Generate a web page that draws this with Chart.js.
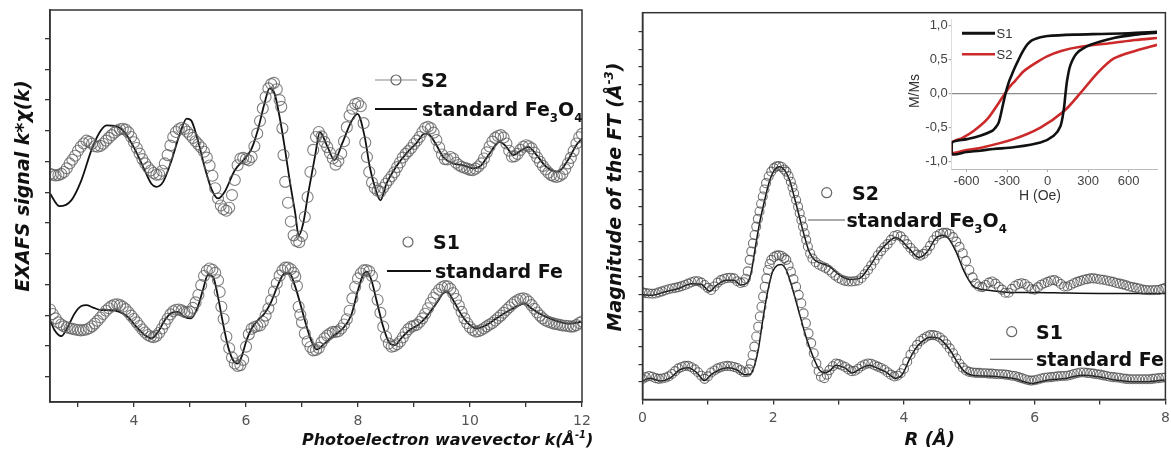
<!DOCTYPE html>
<html><head><meta charset="utf-8">
<script src="https://cdn.jsdelivr.net/npm/chart.js@4.4.1/dist/chart.umd.min.js"></script>
<style>
html,body{margin:0;padding:0;background:#fff;}
#wrap{position:relative;width:1171px;height:452px;overflow:hidden;background:#fff;}
canvas{position:absolute;}
</style></head><body>
<div id="wrap">
<canvas id="cL" width="600" height="452" style="left:0;top:0;width:600px;height:452px"></canvas>
<canvas id="cR" width="571" height="452" style="left:600px;top:0;width:571px;height:452px"></canvas>
<canvas id="cI" width="276" height="195" style="left:890px;top:14px;width:276px;height:195px"></canvas>
</div>
<script>
// ---------- LEFT PANEL: EXAFS k*chi(k) (arbitrary offset units) ----------
const K_S2 = [2.50,2.55,2.60,2.65,2.70,2.75,2.80,2.85,2.90,2.95,3.00,3.05,3.10,3.15,3.20,3.25,3.30,3.35,3.40,3.45,3.50,3.55,3.60,3.65,3.70,3.75,3.80,3.85,3.90,3.95,4.00,4.05,4.10,4.15,4.20,4.25,4.30,4.35,4.40,4.45,4.50,4.55,4.60,4.65,4.70,4.75,4.80,4.85,4.90,4.95,5.00,5.05,5.10,5.15,5.20,5.25,5.30,5.35,5.40,5.45,5.50,5.55,5.60,5.65,5.70,5.75,5.80,5.85,5.90,5.95,6.00,6.05,6.10,6.15,6.20,6.25,6.30,6.35,6.40,6.45,6.50,6.55,6.60,6.63,6.65,6.67,6.70,6.75,6.80,6.85,6.90,6.95,7.00,7.05,7.10,7.15,7.20,7.25,7.30,7.35,7.40,7.45,7.50,7.55,7.60,7.65,7.70,7.75,7.80,7.85,7.90,7.95,8.00,8.05,8.10,8.13,8.16,8.20,8.25,8.30,8.35,8.40,8.45,8.50,8.55,8.60,8.65,8.70,8.75,8.80,8.85,8.90,8.95,9.00,9.05,9.10,9.15,9.20,9.25,9.30,9.35,9.40,9.45,9.50,9.55,9.60,9.65,9.70,9.75,9.80,9.85,9.90,9.95,10.00,10.05,10.10,10.15,10.20,10.25,10.30,10.35,10.40,10.45,10.50,10.55,10.60,10.65,10.70,10.75,10.80,10.85,10.90,10.95,11.00,11.05,11.10,11.15,11.20,11.25,11.30,11.35,11.40,11.45,11.50,11.55,11.60,11.65,11.70,11.75,11.80,11.85,11.90,11.95,12.00];
const CHI_S2 = [6.60,6.57,6.55,6.56,6.60,6.66,6.78,6.94,7.06,7.19,7.35,7.48,7.59,7.68,7.64,7.58,7.50,7.48,7.51,7.58,7.68,7.77,7.86,7.94,8.01,8.05,8.07,8.04,7.95,7.80,7.63,7.44,7.26,7.08,6.94,6.81,6.71,6.63,6.57,6.58,6.70,6.94,7.21,7.52,7.80,7.96,8.05,8.10,8.06,7.97,7.87,7.77,7.66,7.56,7.46,7.32,7.13,6.87,6.54,6.13,5.80,5.57,5.45,5.40,5.50,5.91,6.40,6.88,7.10,7.12,7.08,7.04,7.15,7.50,7.91,8.32,8.73,9.10,9.38,9.52,9.56,9.35,9.00,8.78,8.08,7.21,6.34,5.66,5.05,4.60,4.42,4.38,4.58,5.20,5.85,6.66,7.38,7.80,7.96,7.82,7.64,7.47,7.28,7.10,6.90,7.02,7.26,7.66,8.12,8.50,8.72,8.87,8.90,8.80,8.25,7.62,7.15,6.66,6.32,6.14,6.05,6.02,6.15,6.28,6.40,6.52,6.65,6.82,6.97,7.13,7.25,7.34,7.44,7.57,7.68,7.80,7.96,8.09,8.13,8.08,7.94,7.70,7.46,7.23,7.08,7.07,7.15,7.10,6.96,6.89,6.83,6.80,6.77,6.73,6.72,6.77,6.84,6.94,7.10,7.30,7.49,7.65,7.77,7.83,7.86,7.78,7.59,7.35,7.16,7.17,7.25,7.38,7.48,7.53,7.50,7.43,7.29,7.13,6.99,6.86,6.74,6.64,6.56,6.52,6.50,6.53,6.60,6.76,6.94,7.12,7.34,7.59,7.79,7.90];
const K_FE3O4 = [2.50,2.67,2.88,3.06,3.24,3.39,3.51,3.66,3.83,4.01,4.19,4.31,4.40,4.52,4.67,4.82,4.94,5.02,5.14,5.26,5.38,5.50,5.62,5.80,5.98,6.10,6.21,6.33,6.42,6.51,6.60,6.69,6.78,6.88,6.94,7.02,7.11,7.23,7.32,7.45,7.58,7.72,7.88,7.99,8.12,8.21,8.30,8.40,8.51,8.68,8.86,9.04,9.19,9.28,9.40,9.52,9.70,9.88,10.05,10.17,10.35,10.53,10.65,10.77,10.92,11.04,11.19,11.36,11.57,11.75,11.90,12.00];
const CHI_FE3O4 = [5.96,5.55,5.74,6.39,7.37,7.96,8.18,8.16,7.96,7.42,6.72,6.28,6.18,6.34,7.04,7.91,8.40,8.34,7.69,6.83,6.12,5.80,6.02,6.72,7.10,7.42,8.02,8.89,9.38,9.21,8.45,7.48,6.39,5.31,4.60,4.98,5.96,7.15,7.96,7.50,7.05,7.60,8.30,8.55,7.80,6.83,6.18,5.74,6.29,6.83,7.26,7.59,7.91,7.86,7.54,7.15,6.94,6.88,6.78,6.83,7.26,7.64,7.48,7.21,7.37,7.48,7.21,6.83,6.67,7.05,7.54,7.75];
const K_S1 = [2.50,2.55,2.60,2.65,2.70,2.75,2.80,2.85,2.90,2.95,3.00,3.05,3.10,3.15,3.20,3.25,3.30,3.35,3.40,3.45,3.50,3.55,3.60,3.65,3.70,3.75,3.80,3.85,3.90,3.95,4.00,4.05,4.10,4.15,4.20,4.25,4.30,4.35,4.40,4.45,4.50,4.55,4.60,4.65,4.70,4.75,4.80,4.85,4.90,4.95,5.00,5.05,5.10,5.15,5.20,5.25,5.30,5.35,5.40,5.45,5.50,5.53,5.56,5.60,5.65,5.70,5.75,5.80,5.85,5.90,5.95,6.00,6.05,6.10,6.15,6.20,6.25,6.30,6.35,6.40,6.45,6.50,6.55,6.60,6.65,6.70,6.75,6.80,6.85,6.88,6.91,6.94,6.97,7.00,7.05,7.10,7.15,7.20,7.25,7.30,7.35,7.40,7.45,7.50,7.55,7.60,7.65,7.70,7.75,7.80,7.85,7.90,7.95,8.00,8.05,8.10,8.15,8.20,8.25,8.30,8.35,8.40,8.45,8.50,8.55,8.60,8.65,8.70,8.75,8.80,8.85,8.90,8.95,9.00,9.05,9.10,9.15,9.20,9.25,9.30,9.35,9.40,9.45,9.50,9.55,9.60,9.65,9.70,9.75,9.80,9.85,9.90,9.95,10.00,10.05,10.10,10.15,10.20,10.25,10.30,10.35,10.40,10.45,10.50,10.55,10.60,10.65,10.70,10.75,10.80,10.85,10.90,10.95,11.00,11.05,11.10,11.15,11.20,11.25,11.30,11.35,11.40,11.45,11.50,11.55,11.60,11.65,11.70,11.75,11.80,11.85,11.90,11.95,12.00];
const CHI_S1 = [2.19,2.04,1.90,1.77,1.70,1.64,1.61,1.58,1.56,1.54,1.52,1.51,1.52,1.54,1.58,1.64,1.73,1.82,1.93,2.04,2.15,2.23,2.30,2.35,2.36,2.33,2.28,2.20,2.10,1.99,1.88,1.77,1.65,1.54,1.44,1.36,1.31,1.29,1.33,1.43,1.57,1.73,1.89,2.03,2.13,2.18,2.19,2.16,2.11,2.10,2.12,2.24,2.42,2.66,2.98,3.28,3.45,3.52,3.48,3.38,3.14,2.76,2.28,1.88,1.30,0.93,0.63,0.43,0.35,0.38,0.55,0.98,1.38,1.56,1.62,1.65,1.67,1.79,1.99,2.22,2.49,2.77,3.04,3.29,3.46,3.55,3.55,3.50,3.38,3.25,2.95,2.28,2.02,1.77,1.41,1.15,0.97,0.86,0.87,0.94,1.12,1.25,1.34,1.41,1.46,1.46,1.48,1.57,1.70,1.87,2.15,2.55,2.93,3.20,3.36,3.46,3.47,3.43,3.28,2.95,2.50,2.08,1.63,1.30,1.08,0.98,1.00,1.06,1.15,1.28,1.43,1.55,1.63,1.66,1.69,1.78,1.90,2.05,2.23,2.41,2.57,2.71,2.83,2.91,2.95,2.94,2.86,2.72,2.53,2.32,2.11,1.90,1.74,1.61,1.52,1.47,1.48,1.52,1.58,1.64,1.70,1.75,1.83,1.91,1.99,2.08,2.17,2.26,2.35,2.43,2.49,2.54,2.55,2.52,2.44,2.33,2.21,2.09,1.99,1.90,1.83,1.79,1.76,1.73,1.71,1.69,1.67,1.66,1.65,1.63,1.64,1.68,1.75,1.80];
const K_FE = [2.49,2.58,2.70,2.82,2.94,3.06,3.15,3.27,3.42,3.60,3.74,3.89,4.04,4.19,4.31,4.43,4.55,4.67,4.79,4.90,5.02,5.14,5.23,5.32,5.41,5.50,5.59,5.68,5.77,5.85,5.92,6.01,6.10,6.21,6.33,6.45,6.57,6.69,6.78,6.87,6.96,7.05,7.14,7.26,7.40,7.58,7.73,7.88,8.00,8.09,8.16,8.24,8.33,8.45,8.57,8.66,8.77,8.92,9.07,9.22,9.40,9.52,9.59,9.70,9.85,10.00,10.11,10.29,10.47,10.65,10.83,10.98,11.10,11.24,11.42,11.60,11.78,11.99];
const CHI_FE = [1.90,1.52,1.32,1.63,2.06,2.30,2.33,2.25,2.17,2.17,2.11,1.95,1.63,1.36,1.25,1.46,1.84,2.08,2.11,1.95,1.90,2.28,2.82,3.31,3.25,2.60,1.73,0.98,0.54,0.43,0.65,1.19,1.57,1.84,2.06,2.44,2.98,3.36,3.36,2.98,2.44,1.84,1.30,0.89,1.08,1.36,1.57,2.01,2.82,3.31,3.42,3.14,2.49,1.63,1.08,1.03,1.25,1.52,1.68,1.95,2.39,2.71,2.77,2.49,2.01,1.68,1.57,1.68,1.90,2.11,2.28,2.39,2.22,2.06,1.90,1.79,1.73,1.79];
const K_TICKS = [3,4,5,6,7,8,9,10,11,12];
const K_LABELS = [4,6,8,10,12];
const CHI_TICKS = [0,1,2,3,4,5,6,7,8,9,10,11];

// ---------- RIGHT PANEL: |FT| vs R ----------
const R_S2 = [0.00,0.05,0.10,0.15,0.20,0.25,0.30,0.35,0.40,0.45,0.50,0.55,0.60,0.65,0.70,0.75,0.80,0.85,0.90,0.95,1.00,1.05,1.10,1.15,1.20,1.25,1.30,1.35,1.40,1.45,1.50,1.55,1.58,1.61,1.64,1.665,1.69,1.715,1.74,1.765,1.79,1.815,1.84,1.865,1.89,1.93,1.97,2.01,2.05,2.09,2.13,2.17,2.20,2.235,2.27,2.295,2.32,2.35,2.38,2.405,2.43,2.455,2.48,2.505,2.53,2.565,2.60,2.65,2.70,2.75,2.80,2.85,2.90,2.95,3.00,3.05,3.10,3.15,3.20,3.25,3.30,3.35,3.40,3.45,3.50,3.55,3.60,3.65,3.70,3.75,3.80,3.85,3.90,3.95,4.00,4.05,4.10,4.15,4.20,4.25,4.30,4.35,4.40,4.45,4.50,4.55,4.60,4.65,4.70,4.75,4.80,4.85,4.90,4.95,5.00,5.05,5.10,5.15,5.20,5.25,5.30,5.35,5.40,5.45,5.50,5.55,5.60,5.65,5.70,5.75,5.80,5.85,5.90,5.95,6.00,6.05,6.10,6.15,6.20,6.25,6.30,6.35,6.40,6.45,6.50,6.55,6.60,6.65,6.70,6.75,6.80,6.85,6.90,6.95,7.00,7.05,7.10,7.15,7.20,7.25,7.30,7.35,7.40,7.45,7.50,7.55,7.60,7.65,7.70,7.75,7.80,7.85,7.90,7.95,8.00];
const FT_S2 = [2.55,2.53,2.52,2.51,2.52,2.55,2.58,2.61,2.64,2.66,2.68,2.70,2.73,2.76,2.80,2.84,2.87,2.87,2.83,2.76,2.68,2.62,2.72,2.83,2.90,2.94,2.96,2.97,2.95,2.87,2.82,2.84,2.94,3.15,3.48,3.72,3.95,4.19,4.43,4.65,4.86,5.08,5.29,5.49,5.67,5.86,6.00,6.10,6.15,6.16,6.13,6.06,6.00,5.87,5.71,5.55,5.38,5.19,5.00,4.81,4.62,4.43,4.24,4.05,3.86,3.66,3.52,3.41,3.34,3.29,3.25,3.19,3.11,3.03,2.96,2.91,2.88,2.86,2.86,2.87,2.89,2.96,3.07,3.19,3.32,3.46,3.61,3.73,3.84,3.93,4.05,4.16,4.19,4.15,4.05,3.93,3.82,3.72,3.63,3.60,3.65,3.74,3.88,4.04,4.16,4.22,4.25,4.25,4.22,4.13,4.00,3.85,3.67,3.45,3.19,2.98,2.80,2.72,2.70,2.76,2.83,2.86,2.80,2.71,2.63,2.54,2.54,2.65,2.74,2.79,2.81,2.79,2.72,2.64,2.63,2.70,2.77,2.81,2.85,2.89,2.90,2.86,2.79,2.72,2.72,2.76,2.81,2.85,2.88,2.91,2.93,2.95,2.95,2.94,2.92,2.91,2.89,2.87,2.85,2.82,2.80,2.78,2.75,2.72,2.70,2.68,2.66,2.63,2.62,2.61,2.61,2.62,2.62,2.65,2.68];
const R_FE3O4 = [0.00,0.15,0.35,0.55,0.75,0.90,1.03,1.13,1.28,1.40,1.50,1.60,1.66,1.72,1.79,1.87,1.94,2.02,2.10,2.17,2.25,2.32,2.40,2.48,2.55,2.63,2.73,2.86,3.01,3.16,3.32,3.47,3.62,3.77,3.87,3.95,4.08,4.23,4.36,4.48,4.58,4.68,4.80,4.92,5.05,5.15,5.35,5.60,6.00,6.50,7.00,7.50,8.00];
const FT_FE3O4 = [2.48,2.47,2.57,2.66,2.80,2.78,2.58,2.75,2.90,2.90,2.76,2.82,3.10,3.76,4.52,5.19,5.71,6.05,6.14,6.05,5.76,5.29,4.71,4.14,3.71,3.48,3.38,3.29,3.05,2.92,2.95,3.28,3.70,4.00,4.12,4.05,3.80,3.55,3.72,4.08,4.18,4.10,3.70,3.15,2.75,2.65,2.60,2.55,2.55,2.53,2.52,2.52,2.52];
const R_S1 = [0.00,0.05,0.10,0.15,0.20,0.25,0.30,0.35,0.40,0.45,0.50,0.55,0.60,0.65,0.70,0.75,0.80,0.85,0.90,0.95,1.00,1.05,1.10,1.15,1.20,1.25,1.30,1.35,1.40,1.45,1.50,1.55,1.60,1.63,1.66,1.685,1.71,1.74,1.77,1.795,1.82,1.845,1.87,1.895,1.92,1.945,1.97,2.01,2.05,2.09,2.13,2.17,2.20,2.235,2.27,2.31,2.35,2.39,2.43,2.465,2.50,2.54,2.58,2.62,2.66,2.695,2.73,2.78,2.82,2.86,2.91,2.96,3.00,3.05,3.10,3.15,3.20,3.25,3.30,3.35,3.40,3.45,3.50,3.55,3.60,3.65,3.70,3.75,3.80,3.85,3.90,3.95,4.00,4.05,4.10,4.15,4.20,4.25,4.30,4.35,4.40,4.45,4.50,4.55,4.60,4.65,4.70,4.75,4.80,4.85,4.90,4.95,5.00,5.05,5.10,5.15,5.20,5.25,5.30,5.35,5.40,5.45,5.50,5.55,5.60,5.65,5.70,5.75,5.80,5.85,5.90,5.95,6.00,6.05,6.10,6.15,6.20,6.25,6.30,6.35,6.40,6.45,6.50,6.55,6.60,6.65,6.70,6.75,6.80,6.85,6.90,6.95,7.00,7.05,7.10,7.15,7.20,7.25,7.30,7.35,7.40,7.45,7.50,7.55,7.60,7.65,7.70,7.75,7.80,7.85,7.90,7.95,8.00];
const FT_S1 = [0.08,0.13,0.16,0.14,0.10,0.08,0.09,0.11,0.15,0.22,0.30,0.38,0.42,0.45,0.45,0.41,0.35,0.27,0.17,0.08,0.15,0.26,0.32,0.38,0.41,0.44,0.45,0.44,0.42,0.39,0.33,0.27,0.27,0.35,0.52,0.76,1.00,1.29,1.57,1.86,2.14,2.43,2.71,2.95,3.19,3.36,3.48,3.56,3.60,3.61,3.59,3.53,3.48,3.32,3.14,2.93,2.71,2.48,2.24,1.95,1.67,1.38,1.10,0.81,0.52,0.30,0.14,0.10,0.20,0.33,0.44,0.52,0.50,0.46,0.42,0.35,0.30,0.31,0.37,0.44,0.49,0.52,0.51,0.47,0.43,0.39,0.34,0.27,0.20,0.15,0.17,0.24,0.37,0.57,0.77,0.92,1.05,1.16,1.23,1.29,1.33,1.33,1.31,1.26,1.18,1.07,0.95,0.81,0.66,0.51,0.40,0.32,0.28,0.26,0.25,0.25,0.24,0.24,0.23,0.23,0.22,0.21,0.21,0.20,0.19,0.17,0.16,0.13,0.10,0.07,0.04,0.03,0.04,0.06,0.09,0.11,0.12,0.13,0.14,0.15,0.16,0.16,0.17,0.19,0.22,0.24,0.26,0.26,0.25,0.24,0.23,0.21,0.20,0.18,0.16,0.14,0.13,0.12,0.11,0.09,0.08,0.07,0.07,0.07,0.07,0.07,0.07,0.07,0.08,0.09,0.10,0.11,0.12];
const R_FE = [0.00,0.11,0.27,0.42,0.57,0.70,0.83,0.95,1.05,1.18,1.31,1.44,1.56,1.64,1.69,1.77,1.84,1.92,1.99,2.07,2.12,2.20,2.30,2.40,2.50,2.61,2.71,2.78,2.86,2.96,3.09,3.21,3.34,3.47,3.60,3.72,3.87,3.98,4.08,4.18,4.28,4.40,4.52,4.62,4.72,4.82,4.92,5.04,5.25,5.45,5.70,5.96,6.21,6.47,6.72,6.97,7.23,7.48,7.74,7.99];
const FT_FE = [0.02,0.10,0.02,0.10,0.34,0.40,0.26,0.03,0.20,0.34,0.40,0.34,0.20,0.20,0.33,0.90,1.76,2.62,3.14,3.33,3.35,3.19,2.62,1.95,1.29,0.71,0.33,0.26,0.30,0.47,0.40,0.25,0.38,0.47,0.38,0.28,0.10,0.22,0.62,0.95,1.15,1.27,1.25,1.10,0.86,0.55,0.30,0.18,0.16,0.14,0.08,-0.05,0.05,0.09,0.18,0.14,0.05,0.00,0.00,0.05];
const R_TICKS = [0,1,2,3,4,5,6,7,8];
const R_LABELS = [0,2,4,6,8];
const FT_TICKS = [0,0.5,1,1.5,2,2.5,3,3.5,4,4.5,5,5.5,6,6.5,7,7.5,8,8.5,9,9.5,10];

// ---------- INSET: hysteresis M/Ms vs H (Oe) ----------
const H_S1 = [810,600,400,200,0,-53,-100,-128,-160,-190,-215,-239,-265,-289,-313,-338,-363,-390,-412,-499,-598,-709,-709,-600,-499,-400,-250,-53,45,95,120,132,145,169,219,318,491,650,810];
const MS_S1 = [0.91,0.89,0.88,0.87,0.85,0.83,0.80,0.77,0.70,0.60,0.50,0.40,0.28,0.16,-0.01,-0.23,-0.43,-0.51,-0.55,-0.62,-0.67,-0.72,-0.89,-0.86,-0.84,-0.815,-0.79,-0.72,-0.62,-0.48,-0.23,-0.01,0.20,0.42,0.60,0.72,0.82,0.87,0.90];
const H_S2 = [810,650,491,244,100,-4,-90,-177,-240,-289,-363,-449,-548,-630,-709,-709,-600,-499,-252,-53,120,244,367,491,664,810];
const MS_S2 = [0.82,0.79,0.75,0.69,0.63,0.55,0.45,0.33,0.19,0.08,-0.14,-0.38,-0.55,-0.65,-0.72,-0.87,-0.83,-0.80,-0.67,-0.50,-0.26,0.01,0.30,0.52,0.64,0.72];
const H_TICKS = [-600,-300,0,300,600];
const MS_TICKS = [-1,-0.5,0,0.5,1];

// ---------- helpers ----------
const pts = (xs, ys) => xs.map((x, i) => ({x: x, y: ys[i]}));
const DV = "'DejaVu Sans', sans-serif";
const LB = "'Liberation Sans', Arial, sans-serif";
Chart.defaults.font.family = DV;

function fontStr(style, size, fam) { return style + ' ' + size + 'px ' + (fam || DV); }
function richWidth(ctx, runs, size, style, fam) {
  let w = 0;
  for (const r of runs) { ctx.font = fontStr(style, (r.sub || r.sup) ? size * 0.62 : size, fam); w += ctx.measureText(r.t).width; }
  return w;
}
function drawRich(ctx, x, y, runs, size, style, align, color, fam) {
  ctx.save();
  ctx.fillStyle = color || '#111';
  ctx.textBaseline = 'alphabetic';
  ctx.textAlign = 'left';
  const w = richWidth(ctx, runs, size, style, fam);
  let cx = align === 'center' ? x - w / 2 : x;
  const base = y + size * 0.36;
  for (const r of runs) {
    const s = (r.sub || r.sup) ? size * 0.62 : size;
    ctx.font = fontStr(style, s, fam);
    const dy = r.sub ? size * 0.3 : (r.sup ? -size * 0.42 : 0);
    ctx.fillText(r.t, cx, base + dy);
    cx += ctx.measureText(r.t).width;
  }
  ctx.restore();
}
function drawRotated(ctx, cx, cy, runs, size, style, color, fam) {
  ctx.save();
  ctx.translate(cx, cy);
  ctx.rotate(-Math.PI / 2);
  drawRich(ctx, 0, 0, runs, size, style, 'center', color, fam);
  ctx.restore();
}
function circ(ctx, x, y, r, color) {
  ctx.save(); ctx.beginPath(); ctx.arc(x, y, r, 0, Math.PI * 2);
  ctx.strokeStyle = color || '#666'; ctx.lineWidth = 1.2; ctx.stroke(); ctx.restore();
}
function hline(ctx, x1, x2, y, color, w) {
  ctx.save(); ctx.beginPath(); ctx.moveTo(x1, y); ctx.lineTo(x2, y);
  ctx.strokeStyle = color; ctx.lineWidth = w; ctx.stroke(); ctx.restore();
}
function frame(chart) {
  const a = chart.chartArea, ctx = chart.ctx;
  ctx.save(); ctx.strokeStyle = '#333'; ctx.lineWidth = 1.5;
  ctx.strokeRect(a.left, a.top, a.right - a.left, a.bottom - a.top); ctx.restore();
}
const setTicks = arr => (s => { s.ticks = arr.map(v => ({value: v})); });
const fitW = w => (s => { s.width = w; s.paddingTop = 0; s.paddingBottom = 0; });
const fitH = h => (s => { s.height = h; s.paddingLeft = 0; s.paddingRight = 0; });
const circleSet = (label, data, r, col) => ({label: label, data: data, showLine: false, pointStyle: 'circle', pointRadius: r, pointHoverRadius: r,
  pointBorderColor: col, pointBackgroundColor: 'rgba(0,0,0,0)', pointBorderWidth: 1.1});
const lineSet = (label, data, w) => ({label: label, data: data, showLine: true, pointRadius: 0, pointHoverRadius: 0,
  borderColor: '#111', borderWidth: w, cubicInterpolationMode: 'monotone', fill: false});
const baseOpts = {responsive: false, animation: false, events: [], devicePixelRatio: 1,
  plugins: {legend: {display: false}, tooltip: {enabled: false}}};

// ---------- LEFT CHART ----------
const leftDeco = {id: 'leftDeco', afterDraw(chart) {
  const ctx = chart.ctx; frame(chart);
  hline(ctx, 375, 417, 80, '#888', 1.2); circ(ctx, 396, 80, 5, '#666');
  drawRich(ctx, 421, 80, [{t: 'S2'}], 19, 'bold');
  hline(ctx, 375, 417, 109, '#111', 1.8);
  drawRich(ctx, 422, 109, [{t: 'standard Fe'}, {t: '3', sub: true}, {t: 'O'}, {t: '4', sub: true}], 19, 'bold');
  circ(ctx, 408, 242, 5, '#666');
  drawRich(ctx, 433, 242, [{t: 'S1'}], 19, 'bold');
  hline(ctx, 387, 431, 271, '#111', 1.8);
  drawRich(ctx, 435, 271, [{t: 'standard Fe'}], 19, 'bold');
  drawRich(ctx, 302, 439, [{t: 'Photoelectron wavevector k(Å'}, {t: '-1', sup: true}, {t: ')'}], 16, 'italic bold');
  drawRotated(ctx, 22, 186, [{t: 'EXAFS signal k*χ(k)'}], 19, 'italic bold');
}};
new Chart(document.getElementById('cL'), {
  type: 'scatter',
  data: {datasets: [
    circleSet('S2', pts(K_S2, CHI_S2), 5.5, 'rgba(95,95,95,0.8)'),
    lineSet('standard Fe3O4', pts(K_FE3O4, CHI_FE3O4), 1.8),
    circleSet('S1', pts(K_S1, CHI_S1), 5.5, 'rgba(95,95,95,0.8)'),
    lineSet('standard Fe', pts(K_FE, CHI_FE), 1.8)
  ]},
  options: Object.assign({}, baseOpts, {
    layout: {padding: {left: 0, top: 10, right: 18, bottom: 0}},
    scales: {
      x: {type: 'linear', min: 2.5, max: 12, afterBuildTicks: setTicks(K_TICKS), afterFit: fitH(50),
        ticks: {autoSkip: false, maxRotation: 0, padding: 6, color: '#555', font: {size: 14},
          callback: v => K_LABELS.includes(v) ? String(v) : ''},
        grid: {drawOnChartArea: false, drawTicks: true, tickLength: 5, tickColor: '#333', lineWidth: 1.3},
        border: {display: true, color: '#333', width: 1.5}},
      y: {type: 'linear', min: -0.82, max: 11.93, afterBuildTicks: setTicks(CHI_TICKS), afterFit: fitW(50),
        ticks: {autoSkip: false, callback: () => ''},
        grid: {drawOnChartArea: false, drawTicks: true, tickLength: 5, tickColor: '#333', lineWidth: 1.3},
        border: {display: true, color: '#333', width: 1.5}}
    }
  }),
  plugins: [leftDeco]
});

// ---------- RIGHT CHART ----------
const rightDeco = {id: 'rightDeco', afterDraw(chart) {
  const ctx = chart.ctx; frame(chart);
  circ(ctx, 226.7, 192.7, 5, '#666');
  drawRich(ctx, 252, 193, [{t: 'S2'}], 19, 'bold');
  hline(ctx, 208, 245, 220, '#555', 1.1);
  drawRich(ctx, 246.5, 220, [{t: 'standard Fe'}, {t: '3', sub: true}, {t: 'O'}, {t: '4', sub: true}], 19, 'bold');
  circ(ctx, 411.7, 331.7, 5, '#666');
  drawRich(ctx, 436, 332, [{t: 'S1'}], 19, 'bold');
  hline(ctx, 390, 433, 359.3, '#444', 1.1);
  drawRich(ctx, 436, 359, [{t: 'standard Fe'}], 19, 'bold');
  drawRich(ctx, 304.5, 439, [{t: 'R (Å)'}], 18, 'italic bold');
  drawRotated(ctx, 14, 197, [{t: 'Magnitude of the FT (Å'}, {t: '-3', sup: true}, {t: ')'}], 19, 'italic bold');
}};
new Chart(document.getElementById('cR'), {
  type: 'scatter',
  data: {datasets: [
    circleSet('S2', pts(R_S2, FT_S2), 4.5, 'rgba(70,70,70,0.75)'),
    lineSet('standard Fe3O4', pts(R_FE3O4, FT_FE3O4), 1.5),
    circleSet('S1', pts(R_S1, FT_S1), 4.5, 'rgba(70,70,70,0.75)'),
    lineSet('standard Fe', pts(R_FE, FT_FE), 1.5)
  ]},
  options: Object.assign({}, baseOpts, {
    layout: {padding: {left: 0, top: 12.7, right: 4.5, bottom: 0}},
    scales: {
      x: {type: 'linear', min: 0, max: 8, afterBuildTicks: setTicks(R_TICKS), afterFit: fitH(52.5),
        ticks: {autoSkip: false, maxRotation: 0, padding: 5, color: '#555', font: {size: 14},
          callback: v => R_LABELS.includes(v) ? String(v) : ''},
        grid: {drawOnChartArea: false, drawTicks: true, tickLength: 5, tickColor: '#333', lineWidth: 1.3},
        border: {display: true, color: '#333', width: 1.5}},
      y: {type: 'linear', min: -0.51, max: 10.54, afterBuildTicks: setTicks(FT_TICKS), afterFit: fitW(42.5),
        ticks: {autoSkip: false, callback: () => ''},
        grid: {drawOnChartArea: false, drawTicks: true, tickLength: 4, tickColor: '#333', lineWidth: 1.2},
        border: {display: true, color: '#333', width: 1.5}}
    }
  }),
  plugins: [rightDeco]
});

// ---------- INSET ----------
const insetDeco = {id: 'insetDeco', afterDraw(chart) {
  const ctx = chart.ctx;
  hline(ctx, 72, 105, 19.3, '#111', 3);
  drawRich(ctx, 106.5, 19.3, [{t: 'S1'}], 13, 'normal', 'left', '#333', LB);
  hline(ctx, 72, 105, 40.3, '#cc2a2a', 2.6);
  drawRich(ctx, 106.5, 40.3, [{t: 'S2'}], 13, 'normal', 'left', '#333', LB);
  drawRich(ctx, 150, 181, [{t: 'H (Oe)'}], 14, 'normal', 'center', '#333', LB);
  drawRotated(ctx, 23.5, 77, [{t: 'M/Ms'}], 14, 'normal', '#333', LB);
}};
new Chart(document.getElementById('cI'), {
  type: 'scatter',
  data: {datasets: [
    {label: 'S1', data: pts(H_S1, MS_S1), showLine: true, pointRadius: 0, borderColor: '#111', borderWidth: 2.6, tension: 0.3},
    {label: 'S2', data: pts(H_S2, MS_S2), showLine: true, pointRadius: 0, borderColor: '#cc2a2a', borderWidth: 2.6, tension: 0.3}
  ]},
  options: Object.assign({}, baseOpts, {
    layout: {padding: {left: 0, top: 5, right: 9, bottom: 0}},
    scales: {
      x: {type: 'linear', min: -710, max: 810, afterBuildTicks: setTicks(H_TICKS), afterFit: fitH(40),
        ticks: {autoSkip: false, maxRotation: 0, padding: 2, color: '#444', font: {family: LB, size: 13},
          callback: v => String(v)},
        grid: {drawOnChartArea: false, drawTicks: true, tickLength: 3, tickColor: '#aaa', lineWidth: 1},
        border: {display: true, color: '#bbb', width: 1}},
      y: {type: 'linear', min: -1.11, max: 1.1, afterBuildTicks: setTicks(MS_TICKS), afterFit: fitW(61.7),
        ticks: {autoSkip: false, padding: 1, color: '#444', font: {family: LB, size: 13},
          callback: v => v.toFixed(1).replace('.', ',')},
        grid: {drawOnChartArea: true, drawTicks: true, tickLength: 3, tickColor: '#aaa', lineWidth: 1.2,
          color: c => (c.tick && c.tick.value === 0) ? '#8a8a8a' : 'rgba(0,0,0,0)'},
        border: {display: true, color: '#ddd', width: 1}}
    }
  }),
  plugins: [insetDeco]
});
</script>
</body></html>
